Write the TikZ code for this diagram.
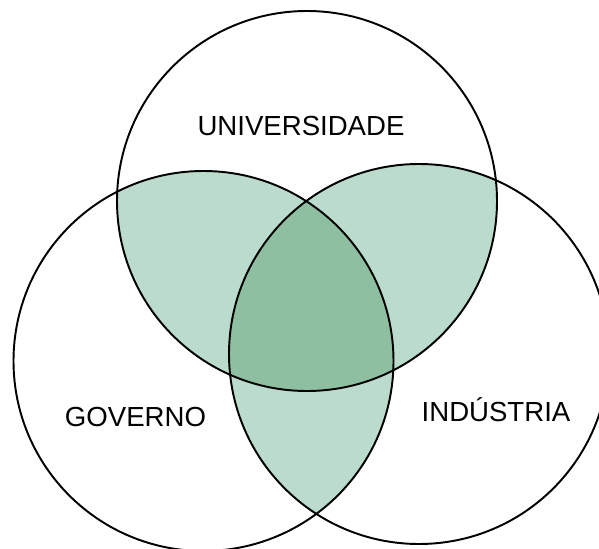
\documentclass[tikz,border=0pt]{standalone}
\usepackage{fontspec}
\setmainfont{Liberation Sans}
\usetikzlibrary{calc}

\definecolor{lensgreen}{RGB}{187,220,204}
\definecolor{coregreen}{RGB}{142,191,161}
\newcommand{\vennr}{3.8}

\begin{document}
\begin{tikzpicture}[scale=1,
    venntext/.style={anchor=base, inner sep=0pt, font=\fontsize{15.7}{18}\selectfont},
    ring/.style={draw=black, line width=1.1pt}]
  \useasboundingbox (0, 0) rectangle (11.98, 10.96);

  \coordinate (univ) at (6.14, 6.94);
  \coordinate (gov) at (4.07, 3.74);
  \coordinate (ind) at (8.38, 3.88);

  % pairwise overlaps
  \begin{scope}
    \clip (univ) circle (\vennr);
    \fill[lensgreen] (gov) circle (\vennr);
    \fill[lensgreen] (ind) circle (\vennr);
  \end{scope}
  \begin{scope}
    \clip (gov) circle (\vennr);
    \fill[lensgreen] (ind) circle (\vennr);
  \end{scope}
  % all three
  \begin{scope}
    \clip (univ) circle (\vennr);
    \clip (gov) circle (\vennr);
    \fill[coregreen] (ind) circle (\vennr);
  \end{scope}

  \draw[ring] (univ) circle (\vennr);
  \draw[ring] (gov) circle (\vennr);
  \draw[ring] (ind) circle (\vennr);

  \node[venntext] (universidade) at (6.02, 8.26) {UNIVERSIDADE};
  \node[venntext] (governo) at (2.71, 2.43) {GOVERNO};
  \node[venntext] (industria) at (9.92, 2.54) {INDÚSTRIA};
\end{tikzpicture}
\end{document}
